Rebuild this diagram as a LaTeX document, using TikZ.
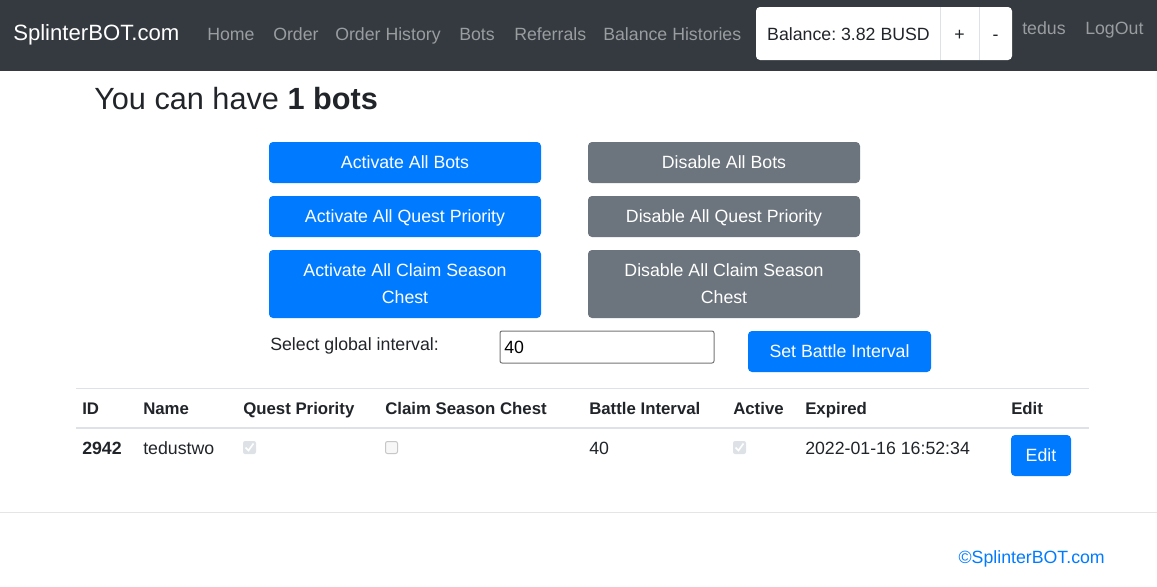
\documentclass[tikz,border=0pt]{standalone}
\usepackage{fontspec}
\setmainfont{Liberation Sans}
\usepackage{tikz}
\frenchspacing
\definecolor{navdark}{RGB}{52,58,64}
\definecolor{linkgray}{RGB}{154,157,160}
\definecolor{btnblue}{RGB}{0,123,255}
\definecolor{btngray}{RGB}{108,117,125}
\definecolor{bodytext}{RGB}{33,37,41}
\definecolor{rulegray}{RGB}{222,226,230}
\definecolor{boxgray}{RGB}{118,118,118}
\newcommand{\basefont}{\fontsize{13.3}{20.25}\selectfont}
\newcommand{\headfont}{\fontsize{12.6}{15}\selectfont\bfseries}
\newcommand{\btnwidth}{204pt}
\newcommand{\btnheight}{30.75pt}
\tikzset{
  navlink/.style={anchor=base west, inner sep=0, text=linkgray, font=\basefont},
  btn/.style={fill=btnblue, text=white, font=\basefont, rounded corners=3pt, inner sep=0,
    text depth=0pt, align=center, minimum width=\btnwidth, minimum height=\btnheight},
  btnoff/.style={btn, fill=btngray},
  cell/.style={anchor=base west, inner sep=0, text=bodytext, font=\basefont},
  headcell/.style={anchor=base west, inner sep=0, text=bodytext, font=\headfont},
}
\begin{document}
\begin{tikzpicture}[x=0.75pt, y=-0.75pt]
\useasboundingbox (0,0) rectangle (1157,586);
\fill[white] (0,0) rectangle (1157,586);
%navbar
\fill[navdark] (0,0) rectangle (1157,71);
\node[anchor=base west, inner sep=0, text=white, font=\fontsize{16.6}{20}\selectfont] (brand) at (13,40) {SplinterBOT.com};
\node[navlink] (home) at (207,40.5) {Home};
\node[navlink] (order) at (273,40.5) {Order};
\node[navlink] (history) at (335,40.5) {Order History};
\node[navlink] (bots) at (459,40.5) {Bots};
\node[navlink] (referrals) at (514,40.5) {Referrals};
\node[navlink] (balhist) at (603,40.5) {Balance Histories};
\fill[white, rounded corners=3pt] (756,7) rectangle (1012,60);
\draw[rulegray, line width=0.75pt] (940,7) -- (940,60);
\draw[rulegray, line width=0.75pt] (979,7) -- (979,60);
\node[cell, anchor=base] (balance) at (848.5,40.5) {Balance: 3.82 BUSD};
\node[cell, anchor=base] (plus) at (959.5,40.5) {+};
\node[cell, anchor=base] (minus) at (995.5,40.5) {-};
\node[navlink] (user) at (1022,34) {tedus};
\node[navlink] (logout) at (1085,34) {LogOut};
%heading
\node[anchor=base west, inner sep=0, text=bodytext, font=\fontsize{23}{27}\selectfont] (title) at (94,109) {You can have \textbf{1 bots}};
%buttons
\node[btn] (actbots) at (405,162.5) {Activate All Bots};
\node[btnoff] (disbots) at (724,162.5) {Disable All Bots};
\node[btn] (actquest) at (405,216.5) {Activate All Quest Priority};
\node[btnoff] (disquest) at (724,216.5) {Disable All Quest Priority};
\node[btn, minimum height=51pt] (actchest) at (405,284) {Activate All Claim Season\\Chest};
\node[btnoff, minimum height=51pt] (dischest) at (724,284) {Disable All Claim Season\\Chest};
%interval
\node[cell] (intlabel) at (270,350.5) {Select global interval:};
\draw[boxgray, line width=0.75pt, rounded corners=1.5pt] (500,331) rectangle (714,363);
\node[cell, text=black] (intvalue) at (504,353.5) {40};
\node[btn, minimum width=137.25pt] (setint) at (839.5,351.5) {Set Battle Interval};
%table
\draw[rulegray, line width=0.75pt] (76,388) -- (1089,388);
\draw[rulegray, line width=1.5pt] (76,428) -- (1089,428);
\node[headcell] (hid) at (82,414.5) {ID};
\node[headcell] (hname) at (143,414.5) {Name};
\node[headcell] (hquest) at (243,414.5) {Quest Priority};
\node[headcell] (hchest) at (385,414.5) {Claim Season Chest};
\node[headcell] (hinterval) at (589,414.5) {Battle Interval};
\node[headcell] (hactive) at (733,414.5) {Active};
\node[headcell] (hexpired) at (805,414.5) {Expired};
\node[headcell] (hedit) at (1011,414.5) {Edit};
\node[cell, font=\basefont\bfseries] (rid) at (82,454.5) {2942};
\node[cell] (rname) at (143,454.5) {tedustwo};
\fill[rulegray, rounded corners=1.5pt] (243,441) rectangle (256,454);
\draw[white, line width=1.2pt] (245.5,447.5) -- (248.5,450.5) -- (253.5,443.5);
\filldraw[fill=black!3, draw=black!22, line width=0.75pt, rounded corners=1.5pt] (385.5,441.5) rectangle (397.5,453.5);
\node[cell] (rinterval) at (589,454.5) {40};
\fill[rulegray, rounded corners=1.5pt] (733,441) rectangle (746,454);
\draw[white, line width=1.2pt] (735.5,447.5) -- (738.5,450.5) -- (743.5,443.5);
\node[cell] (rexpired) at (805,454.5) {2022-01-16 16:52:34};
\node[btn, minimum width=45pt] (redit) at (1041,455.5) {Edit};
%footer
\draw[black!10, line width=0.75pt] (0,512) -- (1157,512);
\node[cell, anchor=base east, text=btnblue] (copy) at (1105,563.5) {©SplinterBOT.com};
\end{tikzpicture}
\end{document}
